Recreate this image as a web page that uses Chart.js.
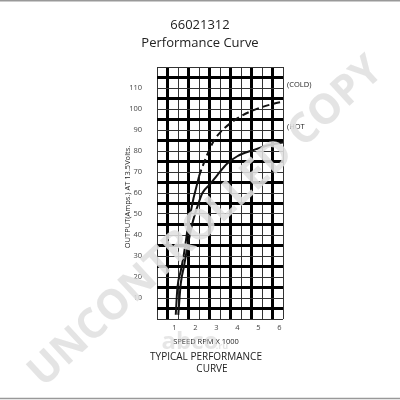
<!DOCTYPE html>
<html>
<head>
<meta charset="utf-8">
<script src="https://cdn.jsdelivr.net/npm/chart.js@4"></script>
<style>
  html, body { margin: 0; padding: 0; background: #fff; }
  canvas { display: block; }
</style>
</head>
<body>
<canvas id="myChart" width="400" height="400"></canvas>
<script>
// speed (RPM x 1000) and output (A)
var coldSpeed = [1.06, 1.14, 1.30, 1.45, 1.69, 2.17, 2.33, 2.59, 2.88, 3.19, 3.99, 4.77, 5.72, 6.17];
var coldAmps = [2, 15, 23, 31, 47, 68, 72.5, 79, 85, 89, 95.5, 99.5, 102.5, 103.5];
var hotSpeed = [1.18, 1.30, 1.45, 1.62, 1.85, 2.09, 2.33, 2.72, 3.04, 3.51, 3.99, 4.77, 5.56, 6.17];
var hotAmps = [2, 17, 25, 34.5, 45.5, 53.5, 60, 64.5, 68.5, 74, 77.5, 80.5, 83, 84];
var xTickValues = [1, 2, 3, 4, 5, 6];
var yTickLabels = [10, 20, 30, 40, 50, 60, 70, 80, 90, 100, 110];

var xMin = 1 / 6, xMax = 6 + 1 / 6;
var font = "'Open Sans', 'DejaVu Sans', sans-serif";

function toPoints(xs, ys) {
  return xs.map(function (x, i) { return { x: x, y: ys[i] }; });
}

var textPlugin = {
  id: 'texts',
  afterDatasetsDraw: function (chart) {
    var c = chart.ctx;
    c.save();
    c.fillStyle = '#222';
    c.textAlign = 'center';
    c.textBaseline = 'middle';
    c.font = '13px ' + font;
    c.fillText('66021312', 200, 25);
    c.fillText('Performance Curve', 200, 43);

    c.font = '7.5px ' + font;
    c.textAlign = 'left';
    c.fillText('(COLD)', 287, 85);
    c.fillText('(HOT', 287, 127);

    c.textAlign = 'center';
    c.font = '7.5px ' + font;
    c.fillText('SPEED RPM X 1000', 206, 342);
    c.font = '10px ' + font;
    c.fillText('TYPICAL PERFORMANCE', 206, 357);
    c.fillText('CURVE', 212, 369);

    c.save();
    c.translate(128, 197);
    c.rotate(-Math.PI / 2);
    c.font = '7.5px ' + font;
    c.fillText('OUTPUT(Amps.) AT 13.5Volts.', 0, 0);
    c.restore();

    // watermarks
    c.fillStyle = 'rgba(200,200,200,0.45)';
    c.font = 'bold 24px ' + font;
    c.fillText('abco', 190, 342);
    c.font = 'bold 9px ' + font;
    c.fillText('.ru', 222, 346);

    c.save();
    c.translate(206, 222);
    c.rotate(-0.745);
    c.font = 'bold 100px ' + font;
    var w = c.measureText('UNCONTROLLED COPY').width;
    var size = 100 * 465 / w;
    c.font = 'bold ' + size.toFixed(1) + 'px ' + font;
    c.fillStyle = 'rgba(224,224,224,0.88)';
    c.fillText('UNCONTROLLED COPY', 0, 0);
    c.restore();

    c.strokeStyle = '#999';
    c.lineWidth = 1.5;
    c.beginPath();
    c.moveTo(0, 0.75); c.lineTo(400, 0.75);
    c.moveTo(0, 398.5); c.lineTo(400, 398.5);
    c.stroke();
    c.restore();
  }
};

var data = {
  datasets: [{
    label: 'COLD',
    data: toPoints(coldSpeed, coldAmps),
    borderColor: '#111',
    borderWidth: 2,
    pointRadius: 0,
    fill: false,
    cubicInterpolationMode: 'monotone',
    segment: {
      borderDash: function (ctx) { return ctx.p0.parsed.y >= 65 ? [7, 4] : undefined; }
    }
  }, {
    label: 'HOT',
    data: toPoints(hotSpeed, hotAmps),
    borderColor: '#111',
    borderWidth: 2,
    pointRadius: 0,
    fill: false,
    cubicInterpolationMode: 'monotone'
  }]
};

var config = {
  type: 'line',
  data: data,
  plugins: [textPlugin],
  options: {
    responsive: false,
    animation: false,
    layout: { padding: { left: 0, top: 67, right: 117, bottom: 0 } },
    plugins: { legend: { display: false }, tooltip: { enabled: false }, title: { display: false } },
    scales: {
      x: {
        type: 'linear',
        position: 'bottom',
        min: xMin,
        max: xMax,
        afterBuildTicks: function (axis) {
          axis.ticks = xTickValues.map(function (v) { return { value: v }; });
        },
        afterFit: function (axis) { axis.height = 81; },
        grid: { display: false, drawTicks: false },
        border: { display: false },
        ticks: { padding: 4, color: '#444', font: { family: font, size: 7.5 } }
      },
      xg: {
        type: 'linear',
        position: 'top',
        min: xMin,
        max: xMax,
        afterBuildTicks: function (axis) {
          var t = [];
          for (var n = 0; n <= 12; n++) t.push({ value: xMin + n * 0.5 });
          axis.ticks = t;
        },
        afterFit: function (axis) { axis.height = 0; },
        grid: {
          drawTicks: false,
          color: function (ctx) { return ctx.index % 2 === 1 ? '#000' : '#333'; },
          lineWidth: function (ctx) { return ctx.index % 2 === 1 ? 3 : 1; }
        },
        border: { display: false },
        ticks: { display: false }
      },
      y: {
        type: 'linear',
        position: 'left',
        min: 0,
        max: 120,
        afterBuildTicks: function (axis) {
          var t = [];
          for (var v = 0; v <= 120; v += 5) t.push({ value: v });
          axis.ticks = t;
        },
        afterFit: function (axis) { axis.width = 157; },
        ticks: {
          autoSkip: false,
          padding: 15,
          color: '#444',
          font: { family: font, size: 7.5 },
          callback: function (v) { return yTickLabels.indexOf(v) >= 0 ? String(v) : ''; }
        },
        grid: {
          drawTicks: false,
          color: function (ctx) { return ctx.index % 2 === 1 ? '#000' : '#333'; },
          lineWidth: function (ctx) { return ctx.index % 2 === 1 ? 3 : 1; }
        },
        border: { display: false }
      }
    }
  }
};

var myChart = new Chart(document.getElementById('myChart'), config);
</script>
</body>
</html>
